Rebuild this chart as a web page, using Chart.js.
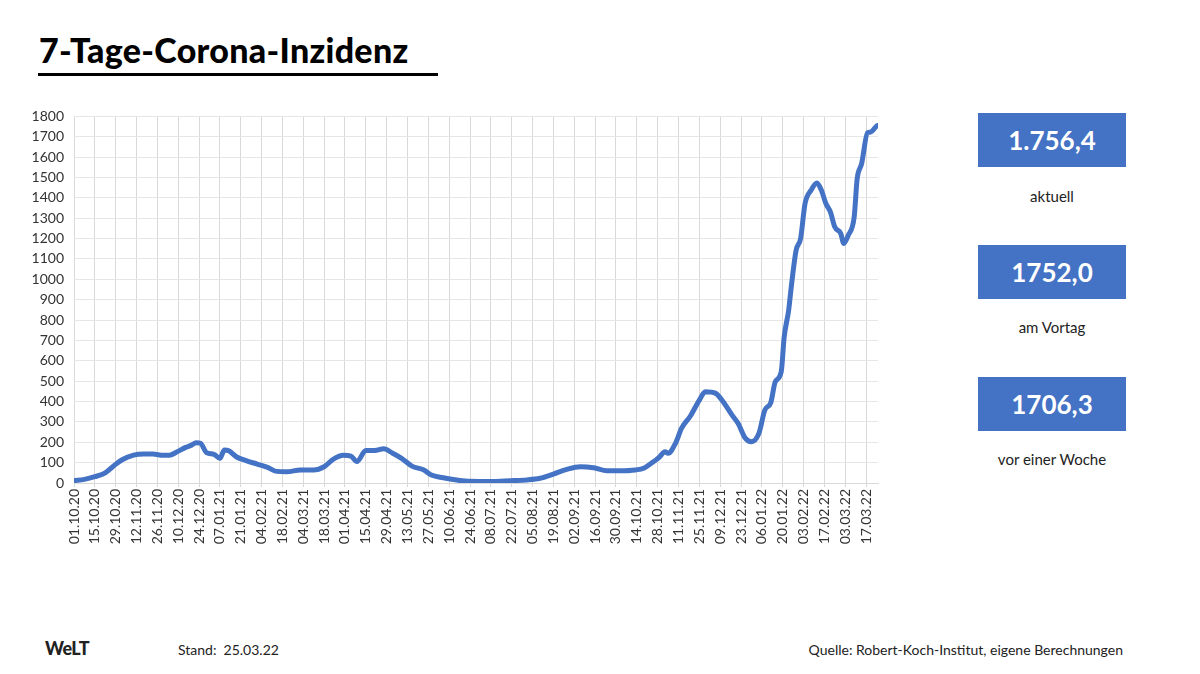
<!DOCTYPE html>
<html>
<head>
<meta charset="utf-8">
<script src="https://cdn.jsdelivr.net/npm/chart.js@4"></script>
<style>
	body { margin: 0; width: 1200px; height: 674px; background: #fff; position: relative; overflow: hidden; font-family: Lato, "Open Sans", sans-serif; }
	#title { position: absolute; left: 39px; top: 29px; font-size: 34px; font-weight: 900; color: #000; letter-spacing: 0.3px; }
	#rule { position: absolute; left: 38px; top: 73px; width: 400px; height: 3px; background: #000; }
	#wrap { position: absolute; left: 20px; top: 98px; width: 870px; height: 468px; }
	.box { position: absolute; left: 978px; width: 148px; height: 54px; background: #4472c4; color: #fff; font-size: 26px; font-weight: 700; text-align: center; line-height: 54px; }
	.cap { position: absolute; left: 978px; width: 148px; text-align: center; font-size: 15px; color: #222; }
	.foot { position: absolute; top: 641px; font-size: 14px; color: #222; }
</style>
</head>
<body>
<div id="title">7-Tage-Corona-Inzidenz</div>
<div id="rule"></div>
<div id="wrap"><canvas id="mychart"></canvas></div>

<div class="box" style="top:113px">1.756,4</div>
<div class="cap" style="top:187px">aktuell</div>
<div class="box" style="top:245px">1752,0</div>
<div class="cap" style="top:318px">am Vortag</div>
<div class="box" style="top:377px">1706,3</div>
<div class="cap" style="top:450px">vor einer Woche</div>

<div class="foot" style="left:45px; top:637px; font-size:18px; font-weight:900; letter-spacing:-0.5px;">WeLT</div>
<div class="foot" style="left:178px">Stand:&nbsp; 25.03.22</div>
<div class="foot" style="right:77px">Quelle: Robert-Koch-Institut, eigene Berechnungen</div>

<script>
// days since 01.10.20
var tage = [0, 7, 14, 21, 26, 32, 40, 47, 53, 60, 64, 69, 75, 79, 82, 85, 89, 94, 98, 101,
	104, 109, 116, 123, 130, 136, 143, 152, 161, 168, 174, 181, 186, 190, 196, 202, 208, 214, 220, 227,
	235, 240, 248, 257, 266, 280, 293, 304, 313, 322, 331, 340, 349, 358, 366, 377, 383, 387, 393, 397,
	399, 404, 408, 414, 420, 424, 431, 436, 442, 446, 451, 455, 460, 464, 468, 471, 475, 477, 480, 482,
	485, 488, 491, 495, 499, 502, 505, 508, 511, 515, 517, 520, 524, 526, 529, 533, 535, 539, 540];
var inzidenz = [12, 18, 31, 50, 80, 113, 137, 142, 142, 136, 136, 152, 175, 186, 198, 195, 149, 141, 121, 162,
	158, 129, 109, 93, 77, 57, 55, 64, 64, 80, 116, 136, 132, 105, 159, 159, 168, 146, 121, 83,
	64, 39, 26, 15, 8, 7, 11, 15, 23, 44, 67, 80, 75, 60, 60, 64, 74, 93, 126, 154,
	146, 195, 268, 329, 407, 448, 440, 399, 333, 293, 219, 203, 244, 358, 395, 497, 546, 718, 848, 979,
	1143, 1200, 1372, 1437, 1473, 1437, 1372, 1331, 1257, 1225, 1176, 1216, 1306, 1494, 1568, 1720, 1723, 1752, 1756.4];
var tickLabels = ['01.10.20', '15.10.20', '29.10.20', '12.11.20', '26.11.20', '10.12.20', '24.12.20',
	'07.01.21', '21.01.21', '04.02.21', '18.02.21', '04.03.21', '18.03.21', '01.04.21', '15.04.21',
	'29.04.21', '13.05.21', '27.05.21', '10.06.21', '24.06.21', '08.07.21', '22.07.21', '05.08.21',
	'19.08.21', '02.09.21', '16.09.21', '30.09.21', '14.10.21', '28.10.21', '11.11.21', '25.11.21',
	'09.12.21', '23.12.21', '06.01.22', '20.01.22', '03.02.22', '17.02.22', '03.03.22', '17.03.22'];

var punkte = [];
for (var i = 0; i < tage.length; i++) {
	punkte.push({ x: tage[i], y: inzidenz[i] });
}

var ctx = document.getElementById('mychart').getContext('2d');
var myChart = new Chart(ctx, {
	type: 'line',
	data: {
		datasets: [{
			data: punkte,
			borderColor: '#4472c4',
			borderWidth: 5,
			pointRadius: 0,
			cubicInterpolationMode: 'monotone',
			borderCapStyle: 'round',
			borderJoinStyle: 'round',
			fill: false
		}]
	},
	options: {
		responsive: true,
		maintainAspectRatio: false,
		animation: false,
		layout: { padding: { top: 3, right: 12 } },
		plugins: { legend: { display: false }, tooltip: { enabled: false } },
		scales: {
			x: {
				type: 'linear',
				min: 0,
				max: 540,
				afterFit: function (scale) { scale.height = 83; },
				grid: { color: '#d9d9d9', tickLength: 4 },
				border: { color: '#d9d9d9' },
				ticks: {
					stepSize: 14,
					includeBounds: false,
					autoSkip: false,
					maxRotation: 90,
					minRotation: 90,
					padding: 2,
					color: '#333',
					font: { family: 'Lato', size: 14 },
					callback: function (value) {
						if (value % 14 !== 0) return '';
						return tickLabels[value / 14];
					}
				}
			},
			y: {
				min: 0,
				max: 1800,
				afterFit: function (scale) { scale.width = 54; },
				grid: { color: '#e6e6e6', drawTicks: false },
				border: { display: false },
				ticks: {
					stepSize: 100,
					padding: 10,
					color: '#333',
					font: { family: 'Lato', size: 14 },
					callback: function (value) { return String(value); }
				}
			}
		}
	}
});
</script>
</body>
</html>
